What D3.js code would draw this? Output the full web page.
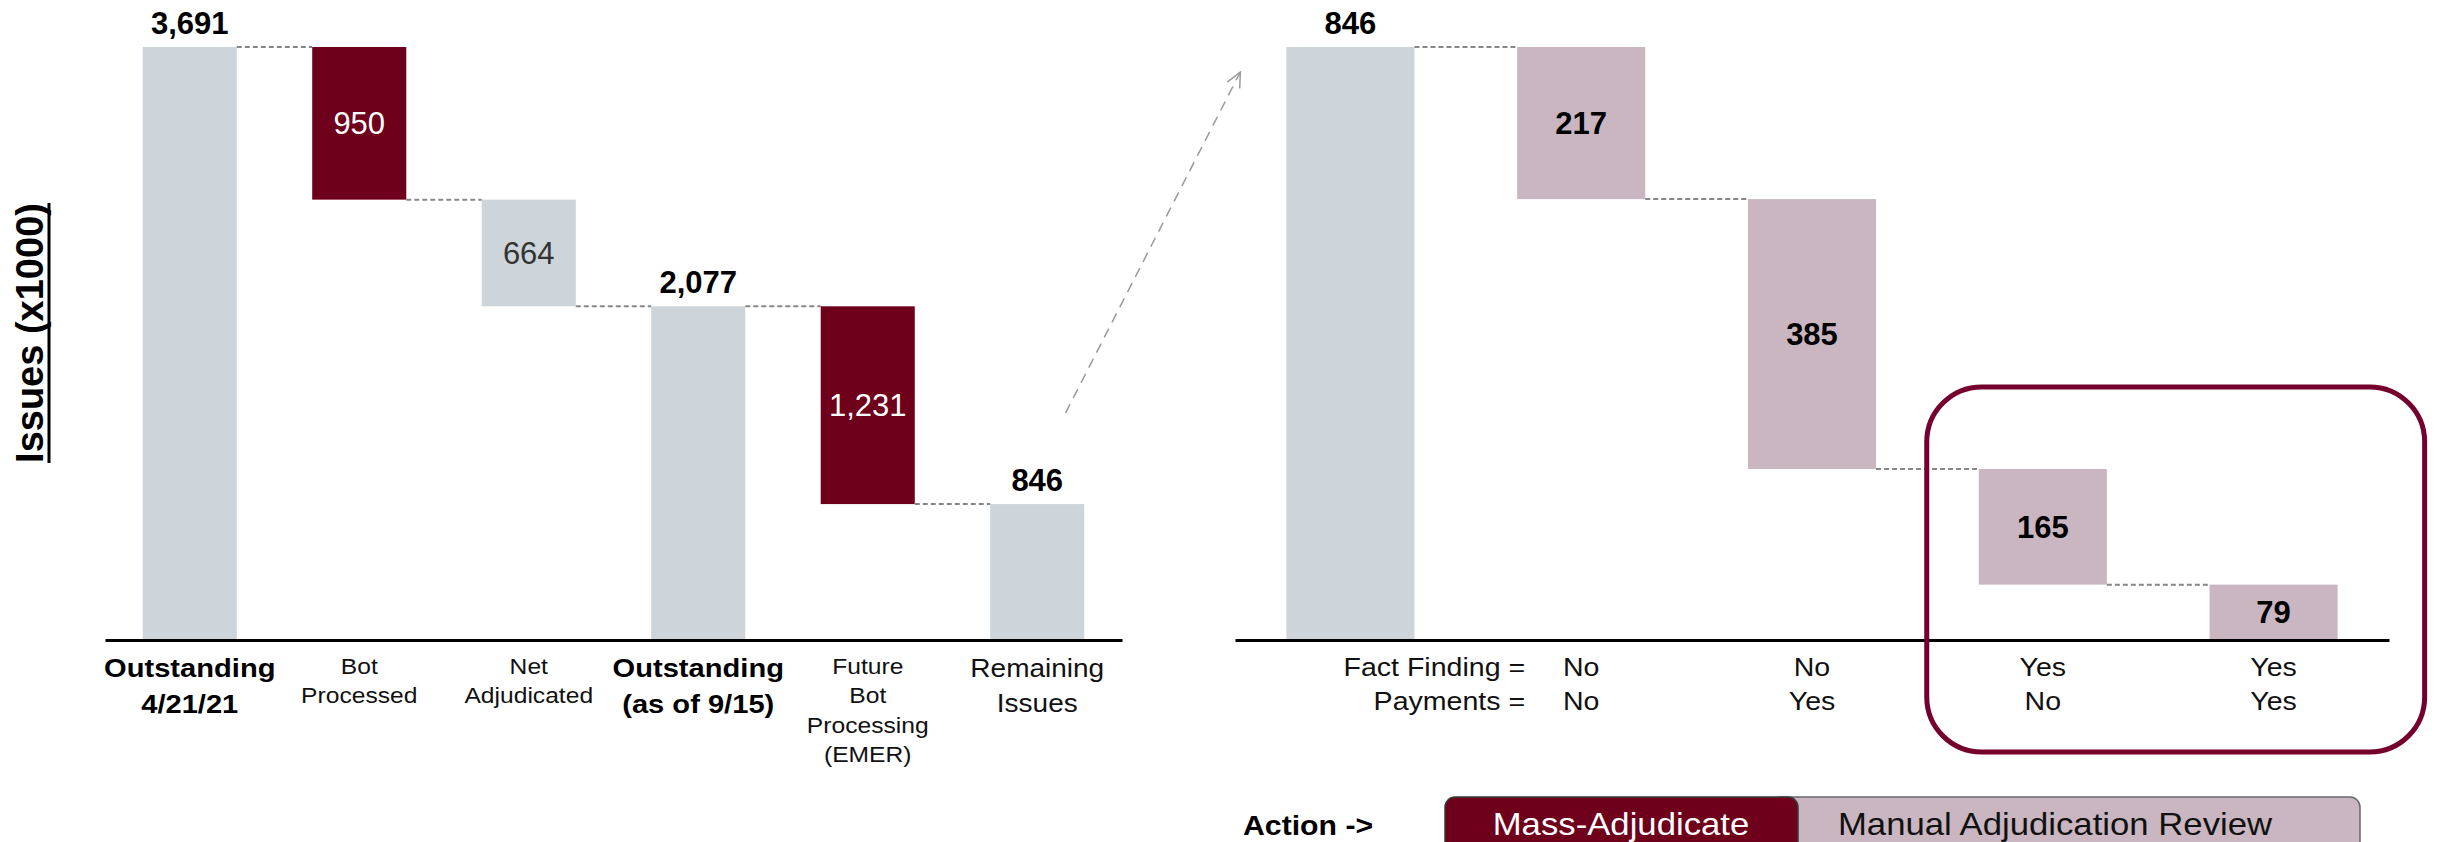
<!DOCTYPE html>
<html>
<head>
<meta charset="utf-8">
<script src="https://cdn.jsdelivr.net/npm/d3@7"></script>
<style>
html, body { margin: 0; padding: 0; background: #fff; }
svg { display: block; font-family: "Liberation Sans", Arial, sans-serif; }
</style>
</head>
<body>
<svg id="chart" width="2441" height="842"></svg>
<script>
// left waterfall: issue backlog
const leftLabels = [["Outstanding", "4/21/21"], ["Bot", "Processed"], ["Net", "Adjudicated"],
                    ["Outstanding", "(as of 9/15)"], ["Future", "Bot", "Processing", "(EMER)"], ["Remaining", "Issues"]];
const leftValues = [3691, -950, -664, 2077, -1231, 846];
const leftKinds = ["total", "bot", "net", "total", "bot", "remain"];

// right waterfall: breakdown of the remaining issues
const rightValues = [846, -217, -385, -165, -79];
const rightKinds = ["remain", "review", "review", "review", "review"];
const rowNames = ["Fact Finding =", "Payments ="];
const factFinding = ["No", "No", "Yes", "Yes"];
const payments = ["No", "Yes", "No", "Yes"];
const actions = ["Mass-Adjudicate", "Manual Adjudication Review"];

const GRAY = "#cdd5db", RED = "#6f001b", PINK = "#c9b6c0", FRAME = "#75002e";
const SX = 1.12;           // the source text is a little wider than plain Arial
const baseY = 640, topY = 47;
const fmt = d3.format(",");

const svg = d3.select("#chart");

function steps(values, kinds) {
    let run = 0;
    return values.map((v, i) => {
        if (v > 0) { run = v; return { i, v, lo: 0, hi: v, kind: kinds[i] }; }
        const hi = run;
        run += v;
        return { i, v, lo: run, hi, kind: kinds[i] };
    });
}

function label(g, x, y, lines, size, weight, fill, lh, anchor) {
    const t = g.append("text")
        .attr("transform", `translate(${x},${y}) scale(${SX},1)`)
        .attr("font-size", size)
        .attr("font-weight", weight)
        .attr("fill", fill)
        .attr("text-anchor", anchor || "middle");
    lines.forEach((s, k) => t.append("tspan").attr("x", 0).attr("y", k * (lh || 0)).text(s));
    return t;
}

function waterfall(values, kinds, x0, x1) {
    const data = steps(values, kinds);
    const x = d3.scaleBand().domain(d3.range(values.length)).range([x0, x1])
        .paddingInner(0.445).paddingOuter(0.2225);
    const y = d3.scaleLinear().domain([0, values[0]]).range([baseY, topY]);
    const g = svg.append("g");
    const fill = { total: GRAY, remain: GRAY, net: GRAY, bot: RED, review: PINK };

    g.selectAll("rect.bar").data(data).join("rect")
        .attr("class", "bar")
        .attr("x", d => x(d.i))
        .attr("width", x.bandwidth())
        .attr("y", d => y(d.hi))
        .attr("height", d => y(d.lo) - y(d.hi))
        .attr("fill", d => fill[d.kind]);

    // dashed connectors at the running total
    g.selectAll("line.conn").data(data.slice(0, -1)).join("line")
        .attr("class", "conn")
        .attr("x1", d => x(d.i) + x.bandwidth())
        .attr("x2", d => x(d.i + 1))
        .attr("y1", d => y(d.v > 0 ? d.hi : d.lo))
        .attr("y2", d => y(d.v > 0 ? d.hi : d.lo))
        .attr("stroke", "#868686")
        .attr("stroke-width", 2)
        .attr("stroke-dasharray", "5,3");

    // value labels
    data.forEach(d => {
        const cx = x(d.i) + x.bandwidth() / 2;
        const t = g.append("text")
            .attr("x", cx)
            .attr("text-anchor", "middle")
            .attr("font-size", 31)
            .text(fmt(Math.abs(d.v)));
        if (d.v > 0) {
            t.attr("y", y(d.hi) - 13).attr("font-weight", "bold").attr("fill", "#000");
        } else {
            const cy = (y(d.hi) + y(d.lo)) / 2 + 11;
            t.attr("y", cy)
             .attr("font-weight", d.kind === "review" ? "bold" : "normal")
             .attr("fill", d.kind === "bot" ? "#fff" : d.kind === "net" ? "#333" : "#000");
        }
    });

    g.append("g")
        .attr("transform", `translate(0,${baseY})`)
        .call(d3.axisBottom(x).tickSize(0).tickSizeOuter(0).tickFormat(""))
        .call(a => a.select(".domain").attr("stroke", "#000").attr("stroke-width", 3));

    return { g, x, y, data };
}

// ---------- left chart ----------
const L = waterfall(leftValues, leftKinds, 105, 1122);
leftLabels.forEach((lines, i) => {
    const cx = L.x(i) + L.x.bandwidth() / 2;
    const kind = leftKinds[i];
    if (kind === "total") label(L.g, cx, 677, lines, 26, "bold", "#000", 36);
    else if (kind === "remain") label(L.g, cx, 677, lines, 25, "normal", "#111", 35);
    else label(L.g, cx, 674, lines, 22, "normal", "#111", 29.5);
});

// y axis title, underlined
const yTitle = svg.append("text")
    .attr("transform", "translate(43,333) rotate(-90)")
    .attr("text-anchor", "middle")
    .attr("font-size", 38)
    .attr("font-weight", "bold")
    .attr("fill", "#000")
    .text("Issues (x1000)");
const tl = yTitle.node().getComputedTextLength();
svg.append("line")
    .attr("transform", "translate(43,333) rotate(-90)")
    .attr("x1", -tl / 2).attr("x2", tl / 2)
    .attr("y1", 6).attr("y2", 6)
    .attr("stroke", "#000").attr("stroke-width", 3);

// ---------- right chart ----------
const R = waterfall(rightValues, rightKinds, 1235, 2389);
const bwR = R.x.bandwidth();
label(R.g, R.x(1) + 8, 676, [rowNames[0]], 25.5, "normal", "#111", 0, "end");
label(R.g, R.x(1) + 8, 710, [rowNames[1]], 25.5, "normal", "#111", 0, "end");
factFinding.forEach((s, k) => label(R.g, R.x(k + 1) + bwR / 2, 676, [s], 25.5, "normal", "#111"));
payments.forEach((s, k) => label(R.g, R.x(k + 1) + bwR / 2, 710, [s], 25.5, "normal", "#111"));

// frame round the fact finding = Yes columns
const fx0 = R.x(3) - 52, fx1 = R.x(4) + bwR + 87;
const fy0 = R.y(-rightValues[3] - rightValues[4]) - 82;
svg.append("rect")
    .attr("x", fx0).attr("y", fy0)
    .attr("width", fx1 - fx0).attr("height", 752 - fy0)
    .attr("rx", 55).attr("ry", 55)
    .attr("fill", "none")
    .attr("stroke", FRAME)
    .attr("stroke-width", 5);

// dashed arrow linking the two charts
const defs = svg.append("defs");
defs.append("marker")
    .attr("id", "arr")
    .attr("viewBox", "0 0 18 18")
    .attr("refX", 17).attr("refY", 9)
    .attr("markerWidth", 18).attr("markerHeight", 18)
    .attr("markerUnits", "userSpaceOnUse")
    .attr("orient", "auto")
    .append("path")
    .attr("d", "M2,2 L17,9 L2,16")
    .attr("fill", "none")
    .attr("stroke", "#9a9a9a")
    .attr("stroke-width", 1.5);

svg.append("line")
    .attr("x1", L.x(5) + L.x.bandwidth() * 0.8).attr("y1", L.y(846) - 91)
    .attr("x2", R.x(0) - 46).attr("y2", R.y(846) + 25)
    .attr("stroke", "#9a9a9a")
    .attr("stroke-width", 1.5)
    .attr("stroke-dasharray", "10,7")
    .attr("marker-end", "url(#arr)");

// ---------- action bar ----------
label(svg, 1243, 835, ["Action ->"], 27, "bold", "#000", 0, "start");
svg.append("rect")
    .attr("x", 1770).attr("y", 797).attr("width", 590).attr("height", 80)
    .attr("rx", 10).attr("fill", PINK).attr("stroke", "#6a6a6a").attr("stroke-width", 1.5);
svg.append("rect")
    .attr("x", 1445).attr("y", 797).attr("width", 353).attr("height", 80)
    .attr("rx", 10).attr("fill", RED).attr("stroke", "#3a3a3a").attr("stroke-width", 1.5);
label(svg, 1621, 835, [actions[0]], 31, "normal", "#fff");
label(svg, 2055, 835, [actions[1]], 31, "normal", "#111");
</script>
</body>
</html>
